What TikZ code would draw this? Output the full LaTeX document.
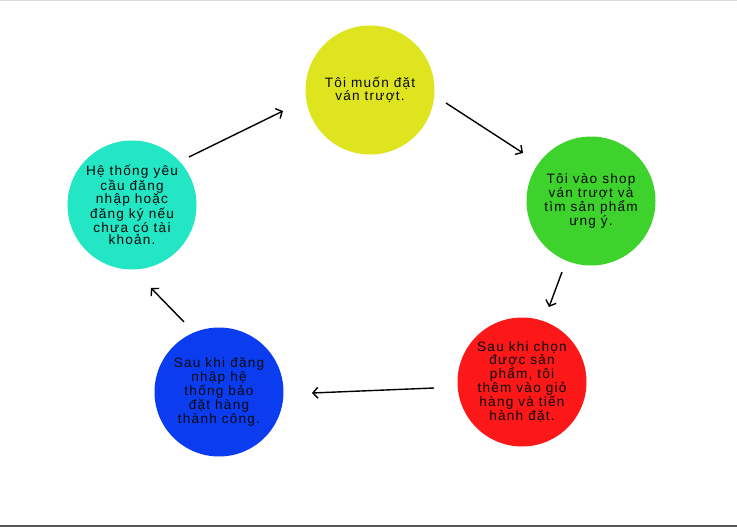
\documentclass[tikz,border=0pt]{standalone}
\usepackage{fontspec}
\setmainfont{Liberation Sans}[LetterSpace=9]
\usetikzlibrary{arrows.meta}
\definecolor{cyellow}{RGB}{222,228,30}
\definecolor{cgreen}{RGB}{62,210,44}
\definecolor{cred}{RGB}{252,24,24}
\definecolor{cblue}{RGB}{12,60,240}
\definecolor{cteal}{RGB}{34,230,196}
\definecolor{txt}{RGB}{10,10,10}
\tikzset{
  bubble/.style={circle, minimum size=129pt, inner sep=0pt, align=center, text=txt,
    font=\fontsize{13.6}{12.5}\selectfont},
  flow/.style={draw=black, line width=1.4pt, -{Straight Barb[length=5pt,width=11pt,line width=1.4pt]}},
}
\begin{document}
\begin{tikzpicture}[x=1pt,y=-1pt]
\useasboundingbox (0,0) rectangle (737,527);
\fill[white] (0,0) rectangle (737,527);
\draw[line width=1.5pt, draw={rgb,255:red,220;green,220;blue,220}] (0,0.75) -- (737,0.75);
\draw[line width=2pt, draw={rgb,255:red,85;green,85;blue,85}] (0,526) -- (737,526);

\node[bubble, fill=cyellow] (n1) at (370,90) {Tôi muốn đặt\\ván trượt.};
\node[bubble, fill=cgreen] (n2) at (591,201) {Tôi vào shop\\ván trượt và\\tìm sản phẩm\\ưng ý.};
\node[bubble, fill=cred] (n3) at (522,382) {Sau khi chọn\\được sản\\phẩm, tôi\\thêm vào giỏ\\hàng và tiến\\hành đặt.};
\node[bubble, fill=cblue] (n4) at (219,392) {Sau khi đăng\\nhập hệ\\thống bảo\\đặt hàng\\thành công.};
\node[bubble, fill=cteal] (n5) at (132,205) {Hệ thống yêu\\cầu đăng\\nhập hoặc\\đăng ký nếu\\chưa có tài\\khoản.};

\coordinate (a1s) at (189,157); \coordinate (a1e) at (283,111);
\coordinate (a2s) at (446,103); \coordinate (a2e) at (523,153);
\coordinate (a3s) at (562,272); \coordinate (a3e) at (549,307);
\coordinate (a4s) at (434,388); \coordinate (a4e) at (312,393);
\coordinate (a5s) at (184,322); \coordinate (a5e) at (151,288);

\draw[flow] (a1s) -- (a1e);
\draw[flow] (a2s) -- (a2e);
\draw[flow] (a3s) -- (a3e);
\draw[flow] (a4s) -- (a4e);
\draw[flow] (a5s) -- (a5e);
\end{tikzpicture}
\end{document}
